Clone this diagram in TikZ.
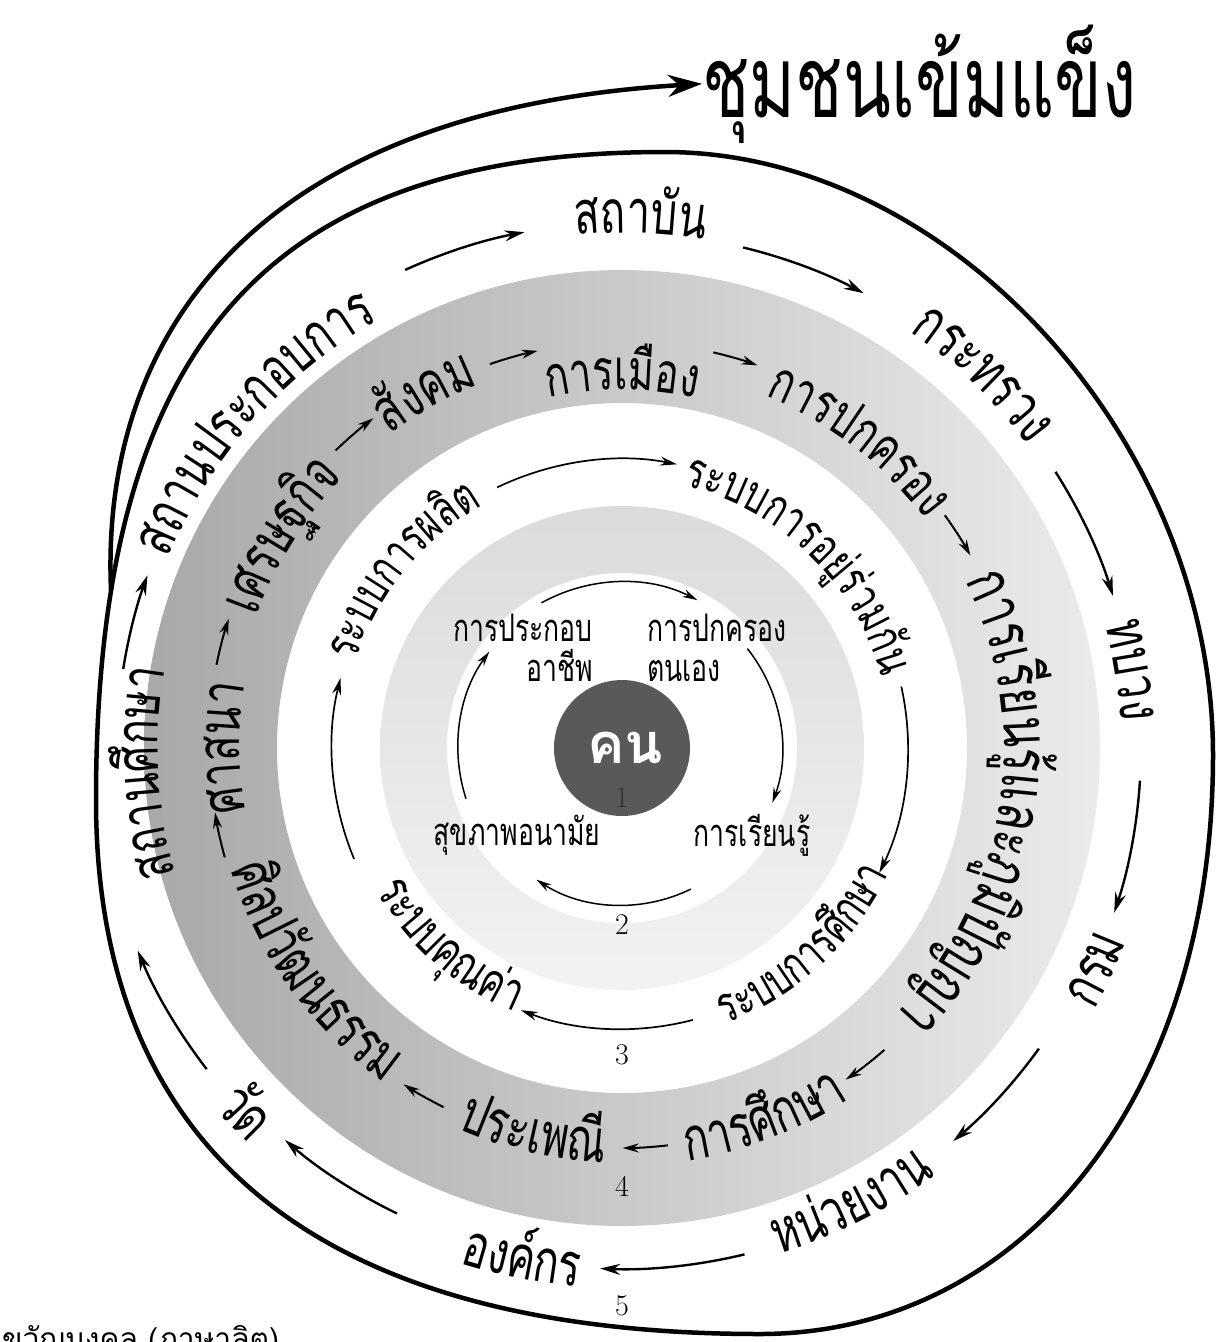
\documentclass[tikz,border=0pt]{standalone}
\usepackage{fontspec}
\usetikzlibrary{arrows.meta,decorations.text}
\newfontfamily\thai[Script=Thai,FakeStretch=0.7]{Loma}
\newfontfamily\thaibold[Script=Thai]{Loma}
\tikzset{
  ring arrow/.style={-{Stealth[length=20pt,width=11pt]},line width=2.4pt},
  band arrow/.style={-{Stealth[length=16pt,width=9pt]},line width=2pt},
  mid arrow/.style={-{Stealth[length=17pt,width=9pt]},line width=1.7pt},
  core arrow/.style={-{Stealth[length=15pt,width=8pt]},line width=1.5pt},
  numlbl/.style={font=\fontsize{30}{30}\selectfont,inner sep=0pt},
  innerlbl/.style={font=\thai\fontsize{38}{40}\selectfont,inner sep=0pt},
}
% text along an arc round C: clockwise (tops outward) / counter-clockwise (tops inward)
\newcommand{\cwtext}[4]{\path[decorate,decoration={text along path,text align=center,
  text={|\thai\fontsize{#1}{#1}\selectfont|#4}}]
  (C) ++({#2+70}:#3) arc[start angle={#2+70},end angle={#2-70},radius=#3];}
\newcommand{\ccwtext}[4]{\path[decorate,decoration={text along path,text align=center,
  text={|\thai\fontsize{#1}{#1}\selectfont|#4}}]
  (C) ++({#2-70}:#3) arc[start angle={#2-70},end angle={#2+70},radius=#3];}
\newcommand{\flowarc}[4]{\draw[#1] (C) ++({#3}:#2) arc[start angle={#3},end angle={#4},radius=#2];}

\begin{document}
\begin{tikzpicture}[x=1pt,y=1pt]
\useasboundingbox (0,0) rectangle (1224,-1342);
\coordinate (C) at (622,-748);

\shade[even odd rule,left color=black!34,right color=black!8] (C) circle[radius=478] (C) circle[radius=345];
\shade[even odd rule,top color=black!14,bottom color=black!5] (C) circle[radius=242] (C) circle[radius=175];

\draw[line width=4.5pt] (665,-152) .. controls (950,-152) and (1213,-440) .. (1213,-755)
  .. controls (1213,-1100) and (1020,-1334) .. (760,-1334)
  .. controls (330,-1334) and (96,-1160) .. (96,-800)
  .. controls (96,-346) and (266,-152) .. cycle;
\node[font=\thai\fontsize{100}{100}\selectfont,anchor=base west,inner sep=0pt] (title) at (702,-117) {ชุมชนเข้มแข็ง};
\coordinate (branch) at (111,-590);
\draw[line width=4.5pt,-{Stealth[length=34pt,width=22pt]}] (branch) .. controls (100,-330) and (260,-110) .. (title.west);

\node[circle,fill=black!65,minimum size=136pt,inner sep=0pt] (core) at (C) {};
\node[text=white,font=\thaibold\bfseries\fontsize{56}{56}\selectfont,anchor=base,inner sep=0pt] (kon) at (625,-763) {คน};
\node[numlbl,text=black!80] (n1) at (622,-798) {1};
\node[numlbl] (n2) at (622,-925) {2};
\node[numlbl] (n3) at (622,-1055) {3};
\node[numlbl] (n4) at (622,-1186) {4};
\node[numlbl] (n5) at (622,-1306) {5};
\node[font=\thaibold\fontsize{30}{30}\selectfont,anchor=base west,inner sep=0pt] (src) at (2,-1349) {ขวัญมงคล (ภาษาลิต)};

\node[innerlbl,align=right,anchor=east] (job) at (593,-648) {การประกอบ\\อาชีพ};
\node[innerlbl,align=left,anchor=west] (self) at (647,-648) {การปกครอง\\ตนเอง};
\node[innerlbl] (health) at (517,-835) {สุขภาพอนามัย};
\node[innerlbl] (learn) at (752,-835) {การเรียนรู้};
\flowarc{core arrow}{166}{119}{63}
\flowarc{core arrow}{160}{38.4}{-20}
\flowarc{core arrow}{157}{-64}{-123}
\flowarc{core arrow}{164}{198}{144}

\cwtext{50}{141}{280}{ระบบการผ{ลิ}ต}
\cwtext{50}{46}{269}{ระบบการอ{ยู่}{ร่}วม{กั}น}
\ccwtext{50}{-47.5}{295}{ระบบการ{ศึ}กษา}
\ccwtext{52}{229}{285}{ระบบ{คุ}ณ{ค่}า}
\flowarc{mid arrow}{289}{115.6}{79}
\flowarc{mid arrow}{286}{12.4}{-25.9}
\flowarc{mid arrow}{281}{-75.4}{-111.1}
\flowarc{mid arrow}{290}{202.5}{166}

\cwtext{60}{180}{382}{ศาสนา}
\cwtext{60}{148}{388}{เศรษฐ{กิ}จ}
\cwtext{60}{119}{390}{{สั}งคม}
\cwtext{56}{90}{358}{การเ{มื}อง}
\cwtext{56}{52.4}{380}{การปกครอง}
\cwtext{64}{-9}{382}{การเ{รี}ยน{รู้}และ{ภู}{มิ}{ปั}ญญา}
\ccwtext{60}{-69}{418}{การ{ศึ}กษา}
\ccwtext{60}{-103}{415}{ประเพ{ณี}}
\ccwtext{60}{216}{410}{{ศิ}ลป{วั}ฒนธรรม}
\flowarc{band arrow}{412}{195.4}{189}
\flowarc{band arrow}{414}{168.4}{161.8}
\flowarc{band arrow}{413}{133.9}{127}
\flowarc{band arrow}{406}{109}{102}
\flowarc{band arrow}{406}{77}{70.5}
\flowarc{band arrow}{398}{35.8}{28.9}
\flowarc{band arrow}{400}{-49}{-56}
\flowarc{band arrow}{400}{-83.4}{-89.9}
\flowarc{band arrow}{401}{-116.4}{-123}

\cwtext{60}{183}{464}{สถาน{ศึ}กษา}
\cwtext{60}{138.5}{492}{สถานประกอบการ}
\cwtext{60}{88}{515}{สถา{บั}น}
\cwtext{60}{46}{506}{กระทรวง}
\cwtext{60}{8.7}{499}{ทบวง}
\ccwtext{60}{-25}{540}{กรม}
\ccwtext{60}{-63.3}{530}{ห{น่}วยงาน}
\ccwtext{60}{-101}{540}{อง{ค์}กร}
\ccwtext{60}{224}{544}{{วั}ด}
\flowarc{ring arrow}{505}{171}{160}
\flowarc{ring arrow}{525}{114.4}{100.7}
\flowarc{ring arrow}{515}{76.4}{62}
\flowarc{ring arrow}{514}{32.5}{17.2}
\flowarc{ring arrow}{519}{-3.6}{-18.5}
\flowarc{ring arrow}{514}{-35.8}{-49.9}
\flowarc{ring arrow}{521}{-76.4}{-92.4}
\flowarc{ring arrow}{517}{-115.8}{-130.7}
\flowarc{ring arrow}{525}{-142.3}{-157.3}
\end{tikzpicture}
\end{document}
